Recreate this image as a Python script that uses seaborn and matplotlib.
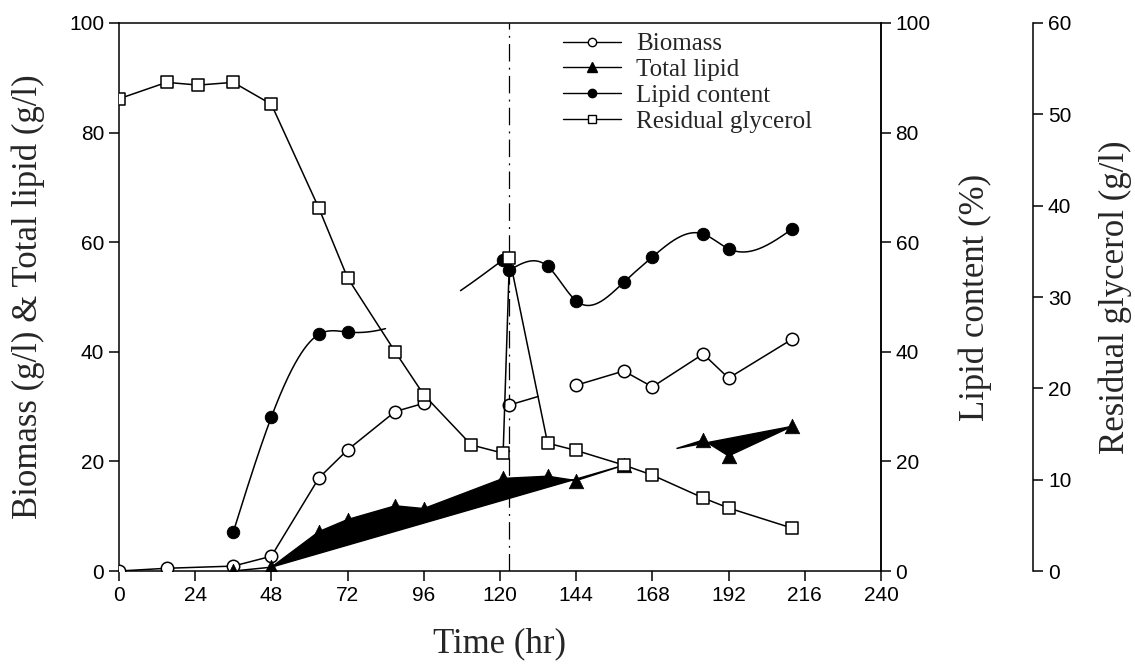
import numpy as np
import pandas as pd
import matplotlib
matplotlib.use("Agg")
import matplotlib.pyplot as plt
from matplotlib.lines import Line2D
import seaborn as sns

# sampling times (hr) and values
biomass_t = [0, 15, 36, 48, 63, 72, 87, 96, 123, 144, 159, 168, 184, 192, 212]
biomass = [0.0, 0.5, 0.9, 2.7, 17.0, 22.1, 29.1, 30.6, 30.3, 33.9, 36.5, 33.6, 39.6, 35.2, 42.3]

lipid_t = [36, 48, 63, 72, 87, 96, 121, 135, 144, 159, 184, 192, 212]
lipid = [0.0, 0.7, 7.2, 9.4, 11.9, 11.4, 16.9, 17.3, 16.5, 19.3, 23.9, 21.0, 26.4]

content_t = [36, 48, 63, 72, 121, 123, 135, 144, 159, 168, 184, 192, 212]
content = [7.1, 28.1, 43.2, 43.6, 56.8, 54.9, 55.6, 49.3, 52.7, 57.3, 61.5, 58.8, 62.4]

glycerol_t = [0, 15, 25, 36, 48, 63, 72, 87, 96, 111, 121, 123, 135, 144, 159, 168, 184, 192, 212]
glycerol = [51.7, 53.5, 53.2, 53.5, 51.1, 39.7, 32.1, 24.0, 19.3, 13.8, 12.9, 34.3, 14.0, 13.2,
            11.6, 10.5, 8.0, 6.9, 4.7]

x_ticks = list(range(0, 241, 24))
left_ticks = list(range(0, 101, 20))
gly_ticks = list(range(0, 61, 10))

feed_time = 123  # dash-dot marker line


def natural_spline(x, y, xs):
    # plain natural cubic spline, only used to draw the smooth curve
    x = np.asarray(x, float)
    y = np.asarray(y, float)
    n = len(x)
    h = np.diff(x)
    A = np.zeros((n, n))
    r = np.zeros(n)
    A[0, 0] = A[-1, -1] = 1
    for i in range(1, n - 1):
        A[i, i - 1] = h[i - 1]
        A[i, i] = 2 * (h[i - 1] + h[i])
        A[i, i + 1] = h[i]
        r[i] = 6 * ((y[i + 1] - y[i]) / h[i] - (y[i] - y[i - 1]) / h[i - 1])
    M = np.linalg.solve(A, r)
    k = np.clip(np.searchsorted(x, xs) - 1, 0, n - 2)
    t0 = xs - x[k]
    t1 = x[k + 1] - xs
    hk = h[k]
    return ((M[k] * t1**3 + M[k + 1] * t0**3) / (6 * hk)
            + (y[k] / hk - M[k] * hk / 6) * t1 + (y[k + 1] / hk - M[k + 1] * hk / 6) * t0)


sns.set_style("ticks")
plt.rcParams['font.family'] = ['Liberation Sans', 'DejaVu Sans']
plt.rcParams['xtick.direction'] = 'out'
plt.rcParams['ytick.direction'] = 'out'
serif = ['Liberation Serif', 'DejaVu Serif']

fig = plt.figure(figsize=(11.35, 6.66), dpi=100)
ax = fig.add_axes([0.1048, 0.1426, 0.6714, 0.8229])
ax_pct = ax.twinx()
ax_gly = ax.twinx()
ax_gly.spines['right'].set_position(('axes', 1.2))

lw = 1.1

# dash-dot line
ax.axvline(feed_time, color='k', lw=0.9, ls=(0, (14, 5, 1.5, 5)), zorder=1)

# biomass: open circles, line broken where the original was
seg_a = slice(0, 8)
sns.lineplot(x=biomass_t[seg_a], y=biomass[seg_a], ax=ax, color='k', lw=lw, zorder=2)
i123 = biomass_t.index(123)
cut_t = 132
sns.lineplot(x=[biomass_t[i123], cut_t],
             y=[biomass[i123], np.interp(cut_t, biomass_t, biomass)],
             ax=ax, color='k', lw=lw, zorder=2)
sns.lineplot(x=biomass_t[i123 + 1:], y=biomass[i123 + 1:], ax=ax, color='k', lw=lw, zorder=2)
sns.scatterplot(x=biomass_t, y=biomass, ax=ax, marker='o', s=80, facecolor='white',
                edgecolor='k', linewidth=1.1, zorder=3)

# total lipid: drawn as filled black shapes
sns.lineplot(x=lipid_t[:2], y=lipid[:2], ax=ax, color='k', lw=lw, zorder=2)
split = lipid_t.index(159)
ax.fill(lipid_t[1:split + 1], lipid[1:split + 1], color='k', lw=1, zorder=2)
tip = 175.6
tip_y = np.interp(tip, lipid_t, lipid)
ax.fill([tip] + lipid_t[split + 1:], [tip_y] + lipid[split + 1:], color='k', lw=1, zorder=2)
sns.scatterplot(x=lipid_t, y=lipid, ax=ax, marker='^', s=110, color='k',
                edgecolor='k', linewidth=0.5, zorder=3)

# lipid content: smooth curve on the % axis, two pieces either side of the feed
k = content_t.index(123)
xa = np.linspace(content_t[0], content_t[k - 1], 400)
ya = natural_spline(content_t[:k], content[:k], xa)
ya[(xa > 84) & (xa < 107.4)] = np.nan
xb = np.linspace(content_t[k], content_t[-1], 400)
yb = natural_spline(content_t[k:], content[k:], xb)
ax_pct.plot(xa, ya, color='k', lw=lw, zorder=2)
ax_pct.plot(content_t[k - 1:k + 1], content[k - 1:k + 1], color='k', lw=lw, zorder=2)
ax_pct.plot(xb, yb, color='k', lw=lw, zorder=2)
sns.scatterplot(x=content_t, y=content, ax=ax_pct, marker='o', s=80, color='k',
                edgecolor='k', zorder=3)

# residual glycerol on its own axis
sns.lineplot(x=glycerol_t, y=glycerol, ax=ax_gly, color='k', lw=lw, sort=False, zorder=2)
sns.scatterplot(x=glycerol_t, y=glycerol, ax=ax_gly, marker='s', s=80, facecolor='white',
                edgecolor='k', linewidth=1.1, zorder=3)

ax.set_xlim(0, 240)
ax.set_ylim(0, 100)
ax_pct.set_ylim(0, 100)
ax_gly.set_ylim(0, 60)
ax.set_xticks(x_ticks)
ax.set_yticks(left_ticks)
ax_pct.set_yticks(left_ticks)
ax_gly.set_yticks(gly_ticks)

for a in (ax, ax_pct, ax_gly):
    a.tick_params(labelsize=15, length=7, width=1.1, color='k', labelcolor='k')
    for sp in a.spines.values():
        sp.set_linewidth(1.1)
        sp.set_color('k')
ax.spines['top'].set_visible(True)
ax.spines['right'].set_visible(True)
for sp in ('top', 'left', 'bottom'):
    ax_gly.spines[sp].set_visible(False)
    ax_pct.spines[sp].set_visible(False)

ax.set_xlabel('Time (hr)', fontsize=25, family=serif, labelpad=16)
ax.set_ylabel('Biomass (g/l) & Total lipid (g/l)', fontsize=25, family=serif)
ax.yaxis.set_label_coords(-0.097, 0.5)
ax_pct.set_ylabel('Lipid content (%)', fontsize=25, family=serif)
ax_pct.yaxis.set_label_coords(1.102, 0.5)
ax_gly.set_ylabel('Residual glycerol (g/l)', fontsize=25, family=serif)
ax_gly.yaxis.set_label_coords(1.286, 0.5)

handles = [
    Line2D([], [], color='k', lw=1, marker='o', ms=6, mfc='white', mec='k'),
    Line2D([], [], color='k', lw=1, marker='^', ms=7, mfc='k', mec='k'),
    Line2D([], [], color='k', lw=1, marker='o', ms=6, mfc='k', mec='k'),
    Line2D([], [], color='k', lw=1, marker='s', ms=6, mfc='white', mec='k'),
]
labels = ['Biomass', 'Total lipid', 'Lipid content', 'Residual glycerol']
ax_gly.legend(handles, labels, loc='upper left', bbox_to_anchor=(0.57, 1.0), frameon=False,
              prop={'family': serif, 'size': 18}, handlelength=2.3, handletextpad=0.6,
              labelspacing=0.13, borderaxespad=0)

fig.savefig('out.png', dpi=100)
